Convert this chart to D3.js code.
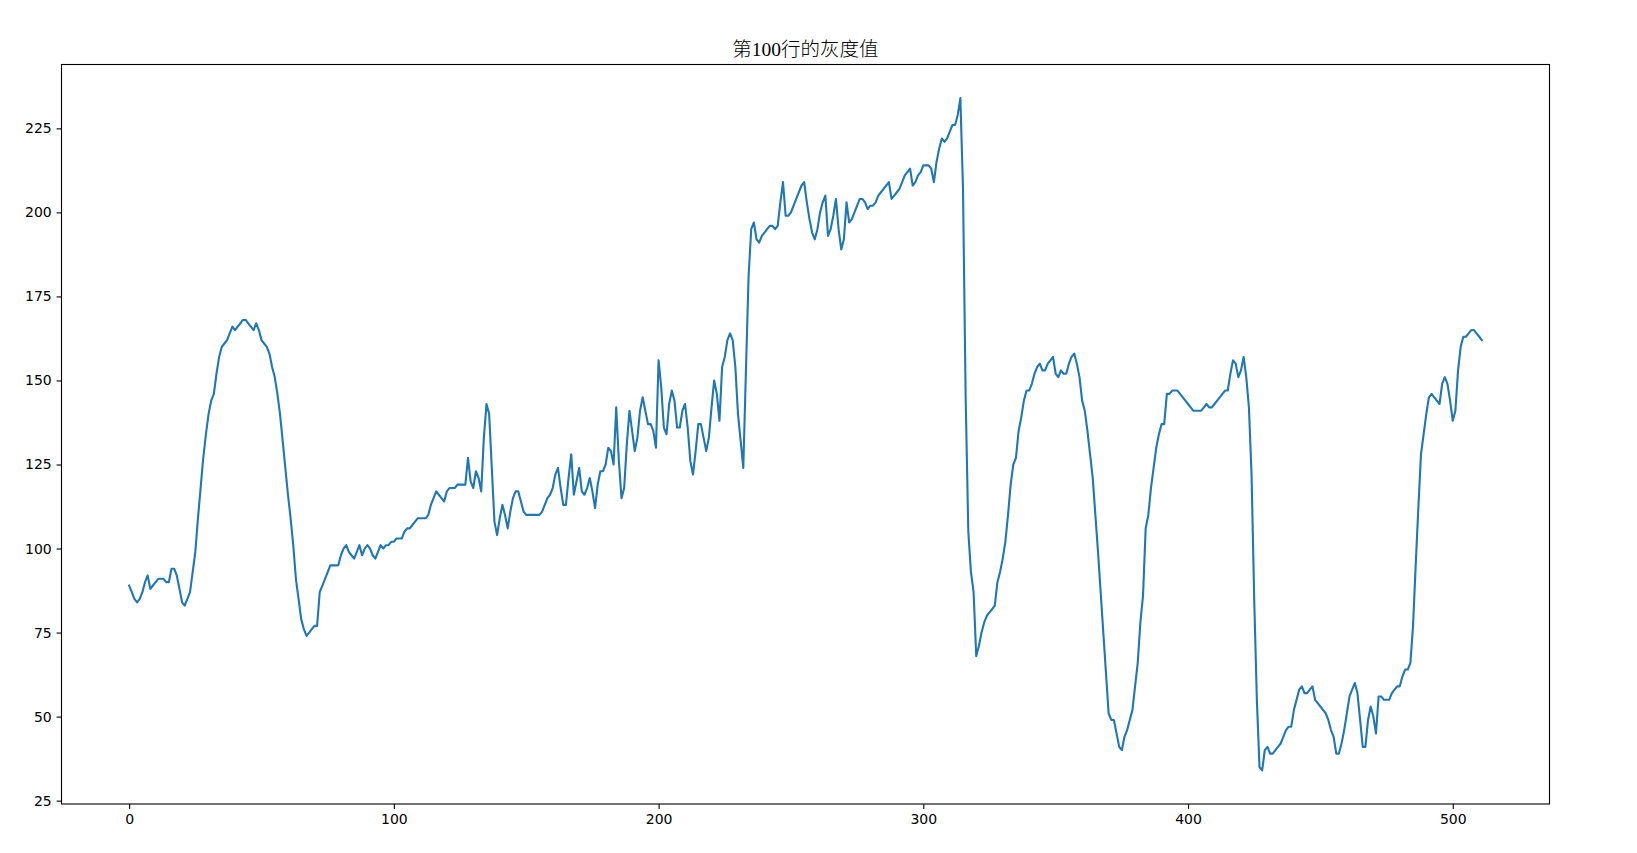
<!DOCTYPE html>
<html>
<head>
<meta charset="utf-8">
<script src="https://cdn.jsdelivr.net/npm/d3@7"></script>
<style>
  body { margin: 0; background: #fff; }
  svg { display: block; }
</style>
</head>
<body>
<div id="chart"></div>
<script>
// gray values of row 100 (index 0..511)
const grayValues = [
  89, 87, 85, 84, 85, 87, 90, 92, 88, 89,
  90, 91, 91, 91, 90, 90, 94, 94, 92, 88,
  84, 83, 85, 87, 93, 99, 109, 118, 127, 134,
  140, 144, 146, 152, 157, 160, 161, 162, 164, 166,
  165, 166, 167, 168, 168, 167, 166, 165, 167, 165,
  162, 161, 160, 158, 154, 151, 146, 140, 132, 124,
  116, 109, 101, 91, 85, 79, 76, 74, 75, 76,
  77, 77, 87, 89, 91, 93, 95, 95, 95, 95,
  98, 100, 101, 99, 98, 97, 99, 101, 98, 100,
  101, 100, 98, 97, 99, 101, 100, 101, 101, 102,
  102, 103, 103, 103, 105, 106, 106, 107, 108, 109,
  109, 109, 109, 110, 113, 115, 117, 116, 115, 114,
  117, 118, 118, 118, 119, 119, 119, 119, 127, 120,
  118, 123, 121, 117, 133, 143, 140, 124, 108, 104,
  109, 113, 110, 106, 111, 115, 117, 117, 114, 111,
  110, 110, 110, 110, 110, 110, 111, 113, 115, 116,
  118, 122, 124, 118, 113, 113, 121, 128, 116, 120,
  124, 117, 116, 118, 121, 117, 112, 119, 123, 123,
  125, 130, 129, 125, 142, 126, 115, 118, 131, 141,
  135, 129, 133, 141, 145, 141, 137, 137, 135, 130,
  156, 148, 136, 134, 143, 147, 144, 136, 136, 141,
  143, 136, 126, 122, 129, 137, 137, 133, 129, 133,
  142, 150, 146, 138, 154, 157, 162, 164, 162, 154,
  140, 132, 124, 153, 181, 195, 197, 192, 191, 193,
  194, 195, 196, 196, 195, 196, 203, 209, 199, 199,
  200, 202, 204, 206, 208, 209, 203, 198, 194, 192,
  195, 200, 203, 205, 193, 195, 199, 204, 195, 189,
  192, 203, 197, 198, 200, 202, 204, 204, 203, 201,
  202, 202, 203, 205, 206, 207, 208, 209, 204, 205,
  206, 207, 209, 211, 212, 213, 208, 209, 211, 212,
  214, 214, 214, 213, 209, 215, 219, 222, 221, 222,
  224, 226, 226, 229, 234, 207, 145, 105, 93, 87,
  68, 71, 75, 78, 80, 81, 82, 83, 90, 93,
  97, 102, 110, 119, 125, 127, 135, 139, 144, 147,
  147, 149, 152, 154, 155, 153, 153, 155, 156, 157,
  152, 151, 153, 152, 152, 155, 157, 158, 155, 151,
  144, 141, 135, 128, 121, 110, 99, 87, 75, 63,
  51, 49, 49, 45, 41, 40, 44, 46, 49, 52,
  59, 66, 78, 86, 106, 110, 118, 124, 130, 134,
  137, 137, 146, 146, 147, 147, 147, 146, 145, 144,
  143, 142, 141, 141, 141, 141, 142, 143, 142, 142,
  143, 144, 145, 146, 147, 147, 152, 156, 155, 151,
  153, 157, 151, 142, 122, 85, 55, 35, 34, 40,
  41, 39, 39, 40, 41, 42, 44, 46, 47, 47,
  52, 55, 58, 59, 57, 57, 58, 59, 55, 54,
  53, 52, 51, 49, 46, 44, 39, 39, 42, 46,
  51, 56, 58, 60, 57, 49, 41, 41, 49, 53,
  50, 45, 56, 56, 55, 55, 55, 57, 58, 59,
  59, 62, 64, 64, 66, 77, 95, 112, 128, 134,
  140, 145, 146, 145, 144, 143, 149, 151, 149, 144,
  138, 141, 153, 160, 163, 163, 164, 165, 165, 164,
  163, 162
];
const pixelIndex = d3.range(grayValues.length);
const xTicks = [0, 100, 200, 300, 400, 500];
const yTicks = [25, 50, 75, 100, 125, 150, 175, 200, 225];
const chartTitle = "第100行的灰度值";

const width = 1637;
const height = 853;
const margin = { top: 64.5, right: 87.5, bottom: 49, left: 61.5 };

const svg = d3.select("#chart").append("svg")
    .attr("width", width)
    .attr("height", height);

// matplotlib style 5% margins
const xPad = (d3.max(pixelIndex) - d3.min(pixelIndex)) * 0.05;
const [yMin, yMax] = d3.extent(grayValues);
const yPad = (yMax - yMin) * 0.05;

const x = d3.scaleLinear()
  .domain([d3.min(pixelIndex) - xPad, d3.max(pixelIndex) + xPad])
  .range([margin.left, width - margin.right]);

const y = d3.scaleLinear()
  .domain([yMin - yPad, yMax + yPad])
  .range([height - margin.bottom, margin.top]);

const tickFont = "'DejaVu Sans', sans-serif";

const xAxis = svg.append("g")
  .attr("transform", `translate(0,${height - margin.bottom})`)
  .call(d3.axisBottom(x).tickValues(xTicks).tickSize(4.9).tickPadding(4.9).tickFormat(d3.format("d")));

const yAxis = svg.append("g")
  .attr("transform", `translate(${margin.left},0)`)
  .call(d3.axisLeft(y).tickValues(yTicks).tickSize(4.9).tickPadding(4.9).tickFormat(d3.format("d")));

[xAxis, yAxis].forEach(g => {
  g.select(".domain").remove();
  g.selectAll(".tick line").attr("stroke", "#000").attr("stroke-width", 1.1);
  g.selectAll(".tick text")
    .attr("fill", "#000")
    .style("font-family", tickFont)
    .style("font-size", "14px");
});

// the data line
const line = d3.line()
  .x((d, i) => x(pixelIndex[i]))
  .y(d => y(d));

svg.append("path")
  .datum(grayValues)
  .attr("fill", "none")
  .attr("stroke", "#1f77b4")
  .attr("stroke-width", 2.1)
  .attr("stroke-linejoin", "round")
  .attr("stroke-linecap", "square")
  .attr("d", line);

// frame (all four spines)
svg.append("rect")
  .attr("x", margin.left)
  .attr("y", margin.top)
  .attr("width", width - margin.left - margin.right)
  .attr("height", height - margin.top - margin.bottom)
  .attr("fill", "none")
  .attr("stroke", "#000")
  .attr("stroke-width", 1.1);

svg.append("text")
  .attr("x", (margin.left + width - margin.right) / 2)
  .attr("y", margin.top - 9)
  .attr("text-anchor", "middle")
  .style("font-family", "'Liberation Serif', 'Noto Sans CJK SC', serif")
  .style("font-weight", 300)
  .style("font-size", "19.5px")
  .attr("fill", "#000")
  .text(chartTitle);
</script>
</body>
</html>
